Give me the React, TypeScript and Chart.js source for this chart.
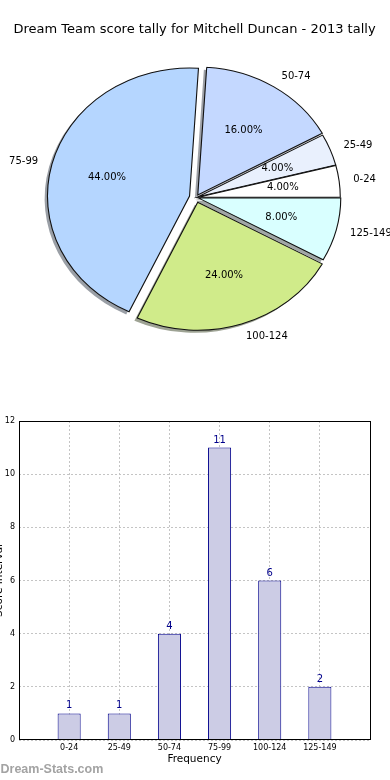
import React, { useEffect, useRef } from 'react';
import { Chart, registerables } from 'chart.js';
Chart.register(...registerables);

const chartTitle = 'Dream Team score tally for Mitchell Duncan - 2013 tally';
const categories = ['0-24', '25-49', '50-74', '75-99', '100-124', '125-149'];
const counts = [1, 1, 4, 11, 6, 2];
const sliceColors = ['#ffffff', '#e9f0fd', '#c4d8ff', '#b5d6ff', '#d0eb8a', '#d9ffff'];
const explode = [2, 2, 3, 6, 5, 2.5];
const yTickValues = [0, 2, 4, 6, 8, 10, 12];
const xAxisTitle = 'Frequency';
const yAxisTitle = 'Score Interval';
const watermark = 'Dream-Stats.com';

const FONT = "'DejaVu Sans', sans-serif";
Chart.defaults.font.family = FONT;

function shadowOf(hex: string) {
  const r = parseInt(hex.slice(1, 3), 16);
  const g = parseInt(hex.slice(3, 5), 16);
  const b = parseInt(hex.slice(5, 7), 16);
  return `rgba(${Math.round(r * 0.3)},${Math.round(g * 0.3)},${Math.round(b * 0.3)},0.5)`;
}

function PieChart() {
  const ref = useRef<HTMLCanvasElement>(null);
  useEffect(() => {
    const canvas = ref.current!;
    const n = categories.length;
    const order = categories.map((_, k) => n - 1 - k);
    const total = counts.reduce((a, b) => a + b, 0);
    const SX = 1.11;
    const plugin: any = {
      id: 'pieDecor',
      beforeDatasetsDraw(chart: any) {
        const ctx = chart.ctx;
        const arcs = chart.getDatasetMeta(0).data as any[];
        if (!arcs.length) return;
        const cx = arcs[0].x, cy = arcs[0].y;
        const R = arcs[0].outerRadius;
        const sh = 0.02 * R;
        ctx.save();
        ctx.translate(cx, cy);
        ctx.scale(SX, 1);
        ctx.translate(-cx, -cy);
        for (const pass of [0, 1]) {
          arcs.forEach((arc: any, k: number) => {
            const i = order[k];
            const mid = (arc.startAngle + arc.endAngle) / 2;
            const dx = Math.cos(mid) * explode[i] + (pass === 0 ? -sh : 0);
            const dy = Math.sin(mid) * explode[i] + (pass === 0 ? sh : 0);
            ctx.save();
            ctx.translate(dx, dy);
            if (pass === 0) {
              const s = Object.create(arc);
              s.options = Object.assign({}, arc.options, { backgroundColor: shadowOf(sliceColors[i]), borderWidth: 0 });
              s.draw(ctx);
            } else {
              arc.draw(ctx);
            }
            ctx.restore();
          });
        }
        ctx.restore();
        return false;
      },
      afterDraw(chart: any) {
        const ctx = chart.ctx;
        const arcs = chart.getDatasetMeta(0).data as any[];
        ctx.save();
        ctx.fillStyle = '#000';
        ctx.textBaseline = 'middle';
        ctx.font = `13px ${FONT}`;
        ctx.textAlign = 'center';
        ctx.fillText(chartTitle, 194.5, 30);
        if (arcs.length) {
          const cx = arcs[0].x, cy = arcs[0].y;
          const R = arcs[0].outerRadius;
          ctx.font = `10px ${FONT}`;
          arcs.forEach((arc: any, k: number) => {
            const i = order[k];
            const mid = (arc.startAngle + arc.endAngle) / 2;
            const c = Math.cos(mid), s = Math.sin(mid);
            const lr = explode[i] + 1.1 * R;
            ctx.textAlign = c > 0 ? 'left' : 'right';
            ctx.fillText(categories[i], cx + SX * lr * c, cy + lr * s);
            const pr = explode[i] + 0.6 * R;
            ctx.textAlign = 'center';
            ctx.fillText(((counts[i] / total) * 100).toFixed(2) + '%', cx + SX * pr * c, cy + pr * s);
          });
        }
        ctx.restore();
      },
    };
    const chart = new Chart(canvas, {
      type: 'pie',
      data: {
        labels: order.map((i) => categories[i]),
        datasets: [
          {
            data: order.map((i) => counts[i]),
            backgroundColor: order.map((i) => sliceColors[i]),
            borderColor: '#111',
            borderWidth: 1,
            borderJoinStyle: 'miter',
            radius: 128,
            rotation: 90,
          } as any,
        ],
      },
      options: {
        animation: false,
        responsive: false,
        events: [],
        rotation: 90,
        radius: 128,
        layout: { padding: { left: 2, right: 0, top: 0, bottom: 5 } },
        plugins: { legend: { display: false }, tooltip: { enabled: false } },
      } as any,
      plugins: [plugin],
    });
    return () => chart.destroy();
  }, []);
  return (
    <canvas ref={ref} width={390} height={400} style={{ position: 'absolute', left: 0, top: 0, width: 390, height: 400 }} />
  );
}

function BarChart() {
  const ref = useRef<HTMLCanvasElement>(null);
  useEffect(() => {
    const canvas = ref.current!;
    const plugin: any = {
      id: 'barDecor',
      afterDatasetsDraw(chart: any) {
        const ctx = chart.ctx;
        const bars = chart.getDatasetMeta(0).data as any[];
        ctx.save();
        ctx.fillStyle = '#00008b';
        ctx.font = `10px ${FONT}`;
        ctx.textAlign = 'center';
        ctx.textBaseline = 'alphabetic';
        bars.forEach((bar: any, i: number) => {
          ctx.fillText(String(counts[i]), bar.x, bar.y - 5);
        });
        ctx.restore();
      },
      afterDraw(chart: any) {
        const ctx = chart.ctx;
        const a = chart.chartArea;
        ctx.save();
        ctx.strokeStyle = '#000';
        ctx.lineWidth = 1;
        ctx.strokeRect(a.left + 0.5, a.top + 0.5, a.right - a.left, a.bottom - a.top - 1);
        ctx.fillStyle = '#000';
        ctx.font = `10.5px ${FONT}`;
        ctx.textAlign = 'center';
        ctx.textBaseline = 'alphabetic';
        ctx.translate(2, (a.top + a.bottom) / 2);
        ctx.rotate(-Math.PI / 2);
        ctx.fillText(yAxisTitle, 0, 0);
        ctx.restore();
        ctx.save();
        ctx.fillStyle = '#a3a3a3';
        ctx.font = `bold 12.5px 'Liberation Sans', sans-serif`;
        ctx.textAlign = 'left';
        ctx.textBaseline = 'middle';
        ctx.fillText(watermark, 0.5, 370);
        ctx.restore();
      },
    };
    const chart = new Chart(canvas, {
      type: 'bar',
      data: {
        datasets: [
          {
            data: counts.map((c, i) => ({ x: i, y: c })),
            backgroundColor: '#cccce5',
            borderColor: '#00008b',
            borderWidth: 1,
            barPercentage: 0.46,
            categoryPercentage: 1,
          } as any,
        ],
      },
      options: {
        animation: false,
        responsive: false,
        events: [],
        layout: { padding: { left: 0, right: 20, top: 21, bottom: 0 } },
        plugins: { legend: { display: false }, tooltip: { enabled: false } },
        scales: {
          x: {
            type: 'linear',
            min: -1,
            max: 6,
            offset: false,
            z: 1,
            afterBuildTicks: (scale: any) => {
              scale.ticks = categories.map((_, i) => ({ value: i }));
            },
            afterFit: (scale: any) => {
              scale.height = 40;
            },
            ticks: {
              autoSkip: false,
              maxRotation: 0,
              padding: 3,
              color: '#000',
              font: { size: 8 },
              callback: (v: any) => categories[v] ?? '',
            },
            grid: { color: '#c4c4c4', lineWidth: 1, drawTicks: false, offset: false },
            border: { display: false, dash: [2, 2] },
            title: {
              display: true,
              text: xAxisTitle,
              color: '#000',
              font: { size: 10.5 },
              padding: { top: 0, bottom: 14 },
            },
          },
          y: {
            type: 'linear',
            min: 0,
            max: 12,
            z: 1,
            afterBuildTicks: (scale: any) => {
              scale.ticks = yTickValues.map((v) => ({ value: v }));
            },
            afterFit: (scale: any) => {
              scale.width = 19;
            },
            ticks: { padding: 4, color: '#000', font: { size: 8 } },
            grid: { color: '#c4c4c4', lineWidth: 1, drawTicks: false },
            border: { display: false, dash: [2, 2] },
          },
        },
      } as any,
      plugins: [plugin],
    });
    return () => chart.destroy();
  }, []);
  return (
    <canvas ref={ref} width={390} height={380} style={{ position: 'absolute', left: 0, top: 400, width: 390, height: 380 }} />
  );
}

export default function App() {
  return (
    <div style={{ position: 'absolute', left: 0, top: 0, width: 390, height: 780, background: '#fff', overflow: 'hidden' }}>
      <PieChart />
      <BarChart />
    </div>
  );
}
